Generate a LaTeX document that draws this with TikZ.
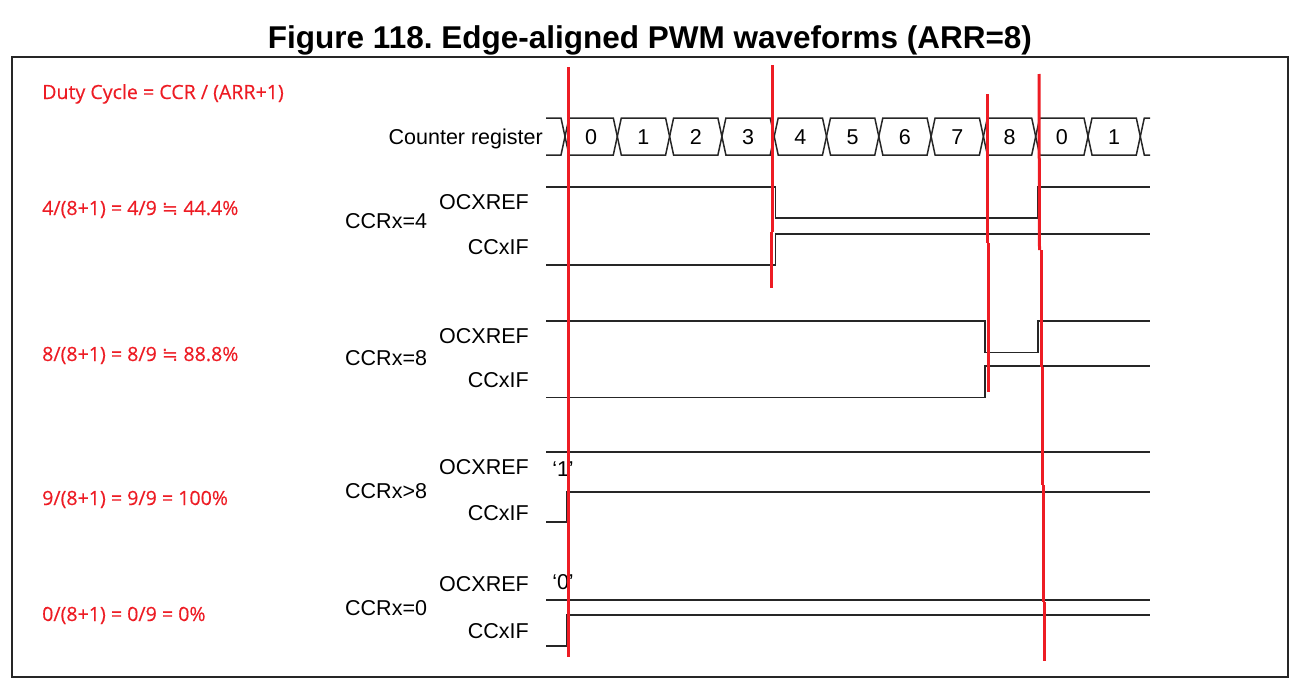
\documentclass[tikz,border=0pt]{standalone}
\usepackage{fontspec}
\setmainfont{Liberation Sans}
\newfontfamily\notefont[FakeBold=0.4]{Open Sans}
\newfontfamily\symfont{DejaVu Sans}
\usetikzlibrary{positioning}
\definecolor{notered}{RGB}{237,28,36}
\tikzstyle{boundingbox} = [line width=1.5pt, black!85]
\tikzstyle{signal} = [line width=1.5pt, black!85, line join=miter]
\tikzstyle{marker} = [line width=3pt, notered]
\tikzstyle{siglabel} = [inner sep=0pt, font=\fontsize{21.5}{24}\selectfont]
\tikzstyle{note} = [inner sep=0pt, text=notered, font=\notefont\fontsize{19.6}{22}\selectfont]
\newcommand{\approxeq}{{\symfont ≒}}

\begin{document}
\frenchspacing
\begin{tikzpicture}[x=1pt, y=-1pt]
\useasboundingbox (0, 0) rectangle (1310, 688);
%% Title and frame
\node[anchor=base, inner sep=0pt, font=\bfseries\fontsize{31.5}{34}\selectfont] (title) at (650, 48) {Figure 118. Edge-aligned PWM waveforms (ARR=8)};
\draw[boundingbox] (12, 57) rectangle (1288, 677);

%% Counter register
\node[siglabel, anchor=base east] (cntlbl) at (543, 144) {Counter register};
\draw[signal] (546, 118) -- (561, 118) -- (565, 136.5) -- (561, 155) -- (546, 155);
\foreach \v [count=\i from 0] in {0,1,2,3,4,5,6,7,8,0,1} {
    \pgfmathsetmacro{\xa}{565 + 52.3*\i}
    \pgfmathsetmacro{\xb}{\xa + 52.3}
    \draw[signal] (\xa, 136.5) -- (\xa+4, 118) -- (\xb-4, 118) -- (\xb, 136.5) -- (\xb-4, 155) -- (\xa+4, 155) -- cycle;
    \node[siglabel, anchor=base] (cnt\i) at ({(\xa+\xb)/2}, 144) {\v};
}
\draw[signal] (1150, 118) -- (1144.3, 118) -- (1140.3, 136.5) -- (1144.3, 155) -- (1150, 155);

%% Duty cycle notes
\node[note, anchor=base west] (duty) at (42, 99) {Duty Cycle = CCR / (ARR+1)};
\node[note, anchor=base west] (duty4) at (42, 215) {4/(8+1) = 4/9 \approxeq{} 44.4\%};
\node[note, anchor=base west] (duty8) at (42, 361) {8/(8+1) = 8/9 \approxeq{} 88.8\%};
\node[note, anchor=base west] (duty9) at (42, 505) {9/(8+1) = 9/9 = 100\%};
\node[note, anchor=base west] (duty0) at (42, 621) {0/(8+1) = 0/9 = 0\%};

%% CCRx=4
\node[siglabel, anchor=base west] (ccr4) at (345, 228) {CCRx=4};
\node[siglabel, anchor=base east] (ref4) at (529, 209) {OCXREF};
\node[siglabel, anchor=base east] (if4) at (529, 254) {CCxIF};
\draw[signal] (546, 187) -- (775.5, 187) -- (775.5, 218) -- (1037.7, 218) -- (1037.7, 187) -- (1150, 187);
\draw[signal] (546, 265) -- (775.5, 265) -- (775.5, 234) -- (1150, 234);

%% CCRx=8
\node[siglabel, anchor=base west] (ccr8) at (345, 365) {CCRx=8};
\node[siglabel, anchor=base east] (ref8) at (529, 343) {OCXREF};
\node[siglabel, anchor=base east] (if8) at (529, 387) {CCxIF};
\draw[signal] (546, 321) -- (985, 321) -- (985, 352.5) -- (1038, 352.5) -- (1038, 321) -- (1150, 321);
\draw[signal] (546, 397.5) -- (985, 397.5) -- (985, 366) -- (1150, 366);

%% CCRx>8
\node[siglabel, anchor=base west] (ccr9) at (345, 498) {CCRx>8};
\node[siglabel, anchor=base east] (ref9) at (529, 474) {OCXREF};
\node[siglabel, anchor=base east] (if9) at (529, 520) {CCxIF};
\node[siglabel, anchor=base] (one) at (563, 476) {‘1’};
\draw[signal] (546, 452) -- (1150, 452);
\draw[signal] (546, 522) -- (567, 522) -- (567, 492) -- (1150, 492);

%% CCRx=0
\node[siglabel, anchor=base west] (ccr0) at (345, 615) {CCRx=0};
\node[siglabel, anchor=base east] (ref0) at (529, 591) {OCXREF};
\node[siglabel, anchor=base east] (if0) at (529, 638) {CCxIF};
\node[siglabel, anchor=base] (zero) at (563, 589) {‘0’};
\draw[signal] (546, 600) -- (1150, 600);
\draw[signal] (546, 646) -- (567, 646) -- (567, 615) -- (1150, 615);

%% red markers
\draw[marker] (568.5, 67) -- (568.5, 657);
\draw[marker] (772.7, 65) -- (772.7, 232);
\draw[marker] (771.7, 232) -- (771.7, 288);
\draw[marker] (987, 94) -- (987, 243);
\draw[marker] (988, 243) -- (988, 392);
\draw[marker] (1039, 74) -- (1039.5, 250);
\draw[marker] (1041, 250) -- (1041, 367);
\draw[marker] (1042, 367) -- (1042, 485);
\draw[marker] (1043, 485) -- (1043, 602);
\draw[marker] (1044, 602) -- (1044, 661);
\end{tikzpicture}
\end{document}
